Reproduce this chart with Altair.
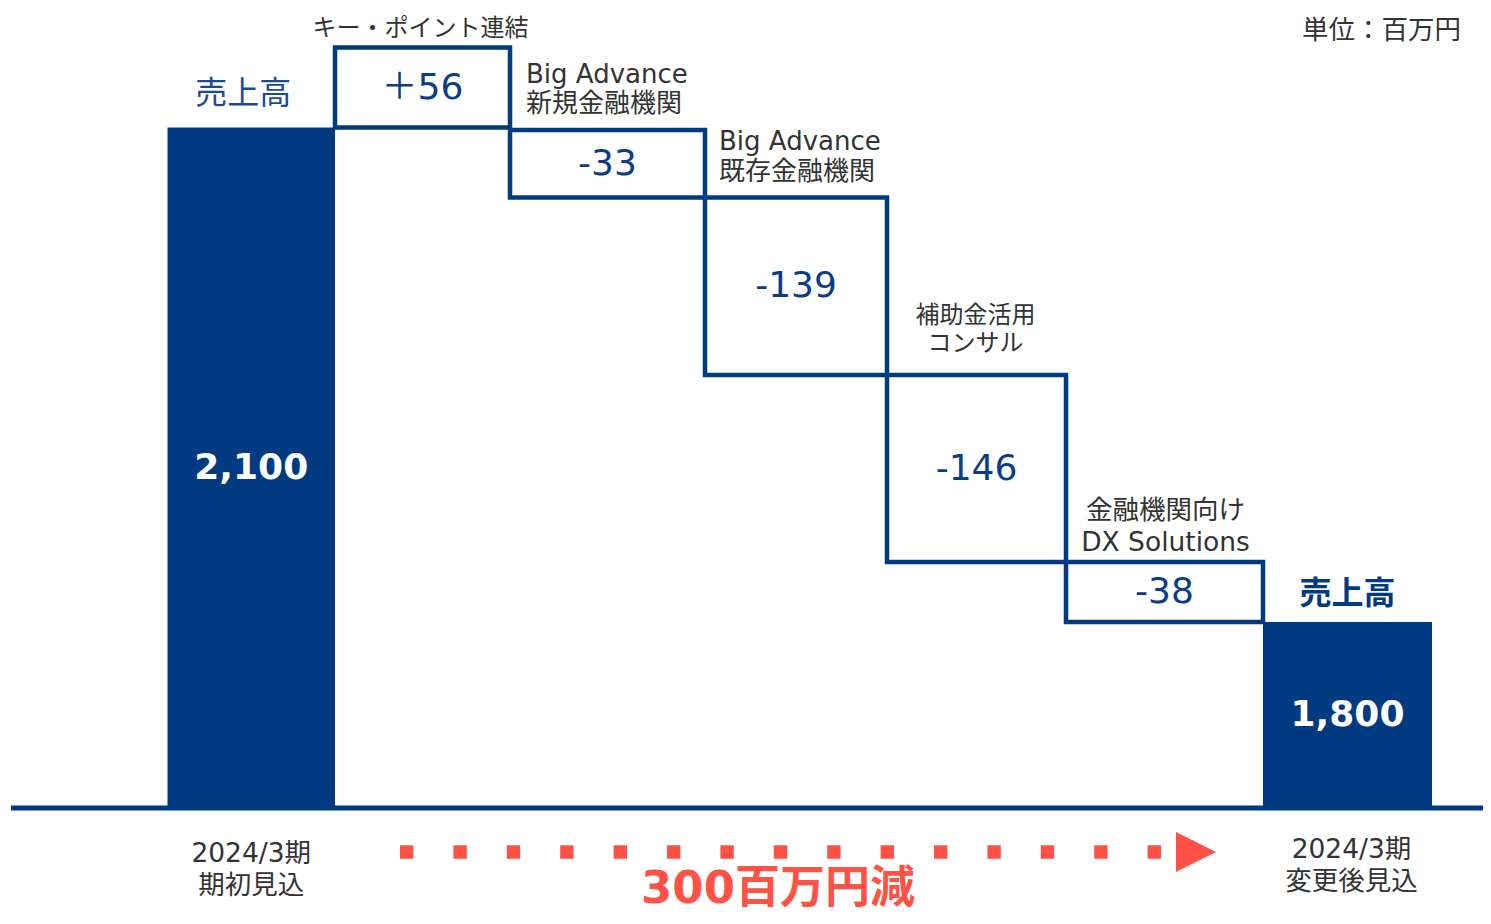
import altair as alt
import pandas as pd

# ---------------- data ----------------
categories = ["期初見込", "キー・ポイント連結", "Big Advance 新規金融機関",
              "Big Advance 既存金融機関", "補助金活用コンサル",
              "金融機関向けDX Solutions", "変更後見込"]
start_value = 2100
end_value = 1800
changes = [56, -33, -139, -146, -38]
change_texts = ["＋56", "-33", "-139", "-146", "-38"]
change_names = ["キー・ポイント連結", "Big Advance\n新規金融機関",
                "Big Advance\n既存金融機関", "補助金活用\nコンサル",
                "金融機関向け\nDX Solutions"]
total_texts = ["2,100", "1,800"]
total_title = "売上高"
period_texts = ["2024/3期\n期初見込", "2024/3期\n変更後見込"]
unit_text = "単位：百万円"
diff_text = f"{start_value - end_value}百万円減"

# ---------------- derived waterfall table ----------------
steps = []
level = start_value
for i, (d, t, n) in enumerate(zip(changes, change_texts, change_names), start=1):
    lo, hi = min(level, level + d), max(level, level + d)
    steps.append({"cat": categories[i], "i0": i, "i1": i + 1, "ic": i + 0.5,
                  "lo": lo, "hi": hi, "mid": (lo + hi) / 2, "text": t, "name": n})
    level += d
last = len(categories) - 1
totals = [
    {"cat": categories[0], "i0": 0, "i1": 1, "ic": 0.5, "lo": 0, "hi": start_value,
     "mid": start_value / 2, "text": total_texts[0], "period": period_texts[0]},
    {"cat": categories[last], "i0": last, "i1": last + 1, "ic": last + 0.5, "lo": 0, "hi": level,
     "mid": level / 2, "text": total_texts[1], "period": period_texts[1]},
]

NAVY = "#003a80"
NAVY_T = "#0b3d87"
GRAY = "#333333"
RED = "#ff5247"
FONT = "DejaVu Sans, Noto Sans CJK JP"
JP = "Noto Sans CJK JP"

# x: column edges (illustrative layout, columns of slightly different widths)
xs = alt.Scale(domain=list(range(len(categories) + 1)),
               range=[159.5, 327, 502, 697, 879, 1058, 1255, 1424])


def XQ(f):
    return alt.X(f"{f}:Q", scale=xs, axis=None)


# y: illustrative (not-to-scale) piecewise scales
scaleA = alt.Scale(domain=[0, start_value, steps[0]["hi"]], range=[800, 119.5, 39.5])
levelsB = sorted({0, level} | {s["lo"] for s in steps[1:]} | {s["hi"] for s in steps[1:]})
scaleB = alt.Scale(domain=levelsB, range=[800, 614, 554, 367, 189.5, 122])


def YA(f):
    return alt.Y(f"{f}:Q", scale=scaleA, axis=None)


def YB(f):
    return alt.Y(f"{f}:Q", scale=scaleB, axis=None)


# ---------------- layer A: start bar + first (increase) box ----------------
dA_tot = pd.DataFrame([totals[0]])
dA_step = pd.DataFrame([steps[0]])

a_box = alt.Chart(dA_step).mark_rect(fill="white", stroke=NAVY, strokeWidth=4.5).encode(
    x=XQ("i0"), x2="i1", y=YA("lo"), y2="hi")
a_bar = alt.Chart(dA_tot).mark_rect(color=NAVY).encode(x=XQ("i0"), x2="i1", y=YA("lo"), y2="hi")
a_val = alt.Chart(dA_tot).mark_text(color="white", font=FONT, fontSize=36, fontWeight="bold",
                                    baseline="middle").encode(x=XQ("ic"), y=YA("mid"), text="text")
a_title = alt.Chart(dA_tot).mark_text(color="#1a4b94", font=JP, fontSize=32, baseline="middle",
                                      dx=-8, dy=-34).encode(
    x=XQ("ic"), y=YA("hi"), text=alt.value(total_title))
a_sval = alt.Chart(dA_step).mark_text(color=NAVY_T, font=FONT, fontSize=36, baseline="middle",
                                      dx=0).encode(x=XQ("ic"), y=YA("mid"), text="text")
a_name = alt.Chart(dA_step).mark_text(color=GRAY, font=JP, fontSize=24, baseline="middle",
                                      dx=-2, dy=-19).encode(x=XQ("ic"), y=YA("hi"), text="name")
layerA = alt.layer(a_box, a_bar, a_val, a_title, a_sval, a_name)

# ---------------- layer B: decreases + end bar ----------------
dB_steps = pd.DataFrame(steps[1:])
dB_tot = pd.DataFrame([totals[1]])
dB_start = pd.DataFrame([totals[0]])

b_boxes = alt.Chart(dB_steps).mark_rect(fill="white", stroke=NAVY, strokeWidth=4.5).encode(
    x=XQ("i0"), x2="i1", y=YB("lo"), y2="hi")
b_vals = alt.Chart(dB_steps).mark_text(color=NAVY_T, font=FONT, fontSize=36,
                                       baseline="middle").encode(x=XQ("ic"), y=YB("mid"), text="text")
b_bar = alt.Chart(dB_tot).mark_rect(color=NAVY).encode(x=XQ("i0"), x2="i1", y=YB("lo"), y2="hi")
b_val = alt.Chart(dB_tot).mark_text(color="white", font=FONT, fontSize=36, fontWeight="bold",
                                    baseline="middle").encode(x=XQ("ic"), y=YB("mid"), text="text")
b_title = alt.Chart(dB_tot).mark_text(color=NAVY, font=JP, fontSize=32, fontWeight="bold",
                                      baseline="middle", dy=-28).encode(
    x=XQ("ic"), y=YB("hi"), text=alt.value(total_title))


def name_label(i, **kw):
    d = pd.DataFrame([steps[i]])
    return alt.Chart(d).mark_text(color=GRAY, font=FONT, lineBreak="\n", baseline="middle", **kw)


b_n1 = name_label(1, fontSize=26, lineHeight=29, align="left", dx=16, dy=-55).encode(
    x=XQ("i0"), y=YB("hi"), text="name")
b_n2 = name_label(2, fontSize=26, lineHeight=30, align="left", dx=14, dy=-56).encode(
    x=XQ("i0"), y=YB("hi"), text="name")
b_n3 = name_label(3, fontSize=24, lineHeight=28, align="center", dx=-1, dy=-59).encode(
    x=XQ("ic"), y=YB("hi"), text="name")
b_n4 = name_label(4, fontSize=26.5, lineHeight=32, align="center", dx=1, dy=-51).encode(
    x=XQ("ic"), y=YB("hi"), text="name")

b_p0 = alt.Chart(dB_start).mark_text(color=GRAY, font=FONT, fontSize=26.5, lineHeight=32,
                                     lineBreak="\n", baseline="middle", dy=46).encode(
    x=XQ("ic"), y=YB("lo"), text="period")
b_p1 = alt.Chart(dB_tot).mark_text(color=GRAY, font=FONT, fontSize=26.5, lineHeight=32,
                                   lineBreak="\n", baseline="middle", dx=4, dy=42).encode(
    x=XQ("ic"), y=YB("lo"), text="period")
b_base = alt.Chart(dB_tot).mark_rule(color=NAVY, strokeWidth=5).encode(
    x=alt.value(3), x2=alt.value(1475), y=YB("lo"))

layerB = alt.layer(b_boxes, b_vals, b_bar, b_val, b_title, b_n1, b_n2, b_n3, b_n4,
                   b_p0, b_p1, b_base)

# ---------------- layer C: annotations ----------------
dC = pd.DataFrame({"diff": [diff_text], "unit": [unit_text]})
c_dots = alt.Chart(dC).mark_rule(color=RED, strokeWidth=13.4, strokeDash=[13.4, 40],
                                 strokeCap="butt").encode(
    x=alt.value(392), x2=alt.value(1153), y=alt.value(844))
c_tri = alt.Chart(dC).mark_point(shape="M-1,-1L1,0L-1,1Z", size=1600, filled=True,
                                 color=RED, opacity=1, strokeWidth=0).encode(
    x=alt.value(1188), y=alt.value(844))
c_diff = alt.Chart(dC).mark_text(color=RED, font=FONT, fontSize=45, fontWeight="bold",
                                 baseline="alphabetic", align="center").encode(
    x=alt.value(770), y=alt.value(895), text="diff")
c_unit = alt.Chart(dC).mark_text(color=GRAY, font=JP, fontSize=26.5, baseline="alphabetic",
                                 align="right").encode(
    x=alt.value(1453), y=alt.value(31), text="unit")
layerC = alt.layer(c_dots, c_tri, c_diff, c_unit)

chart = alt.layer(layerA, layerB, layerC).resolve_scale(y="independent").properties(
    width=1475, height=908, padding=0,
    autosize=alt.AutoSizeParams(type="none"),
).configure_view(stroke=None)

chart.save("out.html", embed_options={"renderer": "svg", "actions": False})
